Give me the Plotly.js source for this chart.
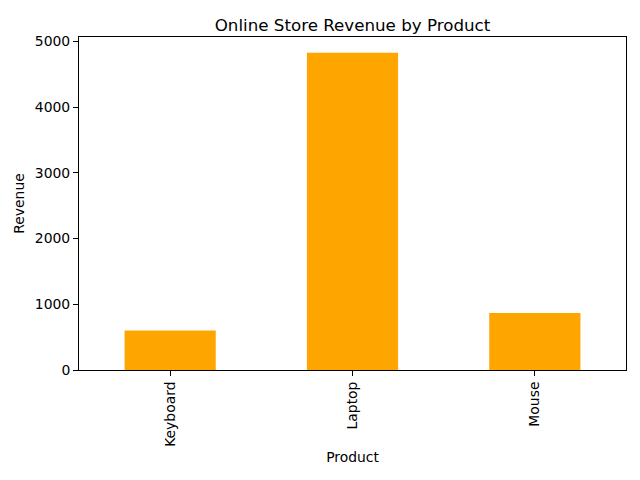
<!DOCTYPE html>
<html>
<head>
<meta charset="utf-8">
<script src="https://cdn.plot.ly/plotly-3.0.1.min.js"></script>
<style>html,body{margin:0;padding:0;background:#fff;}</style>
</head>
<body>
<div id="chart" style="width:640px;height:480px;"></div>
<script>
const products = ["Keyboard", "Laptop", "Mouse"];
const revenue = [600, 4825, 868];
const barColor = "#FFA500";

const font = {family: "DejaVu Sans, sans-serif", size: 13.9, color: "#000"};

Plotly.newPlot("chart", [{
  type: "bar",
  x: products,
  y: revenue,
  width: 0.5,
  marker: {color: barColor, line: {width: 0}},
  hoverinfo: "x+y"
}], {
  width: 640, height: 480,
  margin: {l: 79, r: 14, t: 37, b: 110},
  paper_bgcolor: "#fff",
  plot_bgcolor: "#fff",
  font: font,
  title: {text: "Online Store Revenue by Product", font: {family: font.family, size: 16.7, color: "#000"}, x: 0.5, xref: "paper", xanchor: "center", y: 1, yref: "paper", yanchor: "bottom", pad: {b: 6}},
  showlegend: false,
  xaxis: {
    type: "category",
    range: [-0.5, 2.5],
    tickangle: -90,
    ticks: "outside", ticklen: 5, tickwidth: 1, tickcolor: "#000",
    showline: true, linecolor: "#000", linewidth: 1, mirror: true,
    showgrid: false, zeroline: false,
    tickfont: font,
    title: {text: "Product", font: font, standoff: 6}
  },
  yaxis: {
    range: [0, 5066],
    tickvals: [0, 1000, 2000, 3000, 4000, 5000],
    ticks: "outside", ticklen: 5, tickwidth: 1, tickcolor: "#000",
    showline: true, linecolor: "#000", linewidth: 1, mirror: true,
    showgrid: false, zeroline: false,
    tickfont: font,
    title: {text: "Revenue", font: font, standoff: 6}
  }
}, {displayModeBar: false, staticPlot: true});
</script>
</body>
</html>
